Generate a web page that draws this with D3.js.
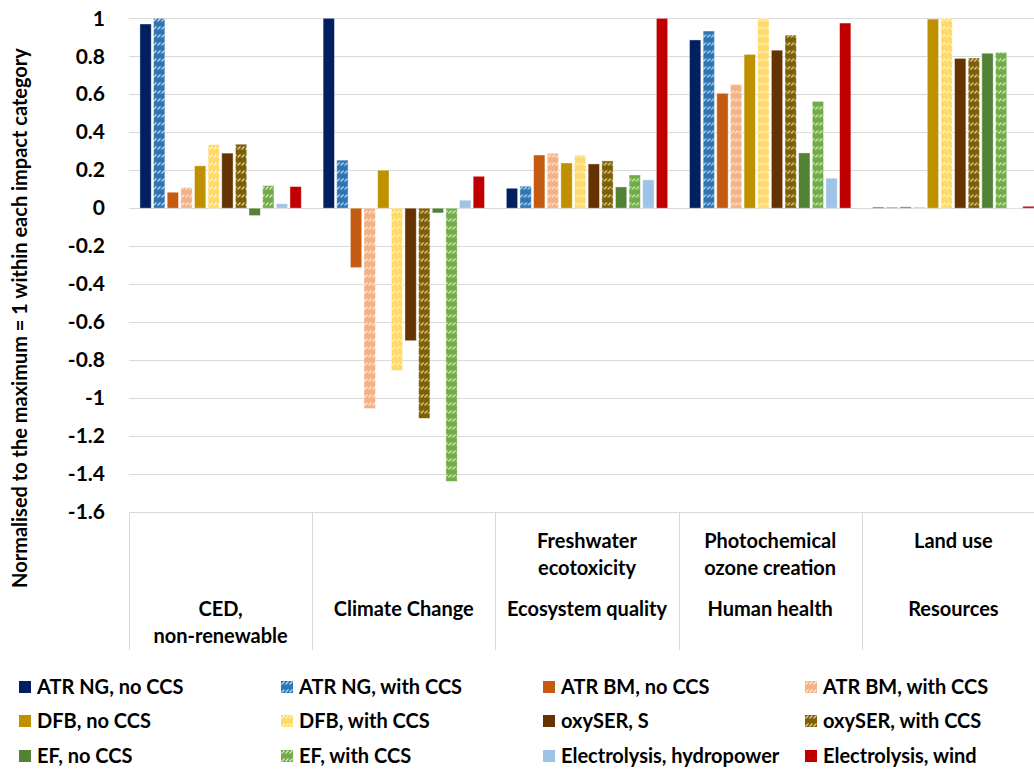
<!DOCTYPE html>
<html>
<head>
<meta charset="utf-8">
<script src="https://cdn.jsdelivr.net/npm/d3@7"></script>
<style>
  body { margin: 0; background: #fff; }
  svg text { font-family: Lato, "Noto Sans", sans-serif; font-weight: bold; fill: #000; }
</style>
</head>
<body>
<svg id="chart" width="1034" height="771"></svg>
<script>
// impact categories (inner label lines / outer label lines)
const categories = ['CED', 'Climate', 'Freshwater', 'Photochemical', 'Land'];
const innerLabels = [[], [], ['Freshwater', 'ecotoxicity'], ['Photochemical', 'ozone creation'], ['Land use']];
const outerLabels = [['CED,', 'non-renewable'], ['Climate Change'], ['Ecosystem quality'], ['Human health'], ['Resources']];

const seriesNames = [
  'ATR NG, no CCS', 'ATR NG, with CCS', 'ATR BM, no CCS', 'ATR BM, with CCS',
  'DFB, no CCS', 'DFB, with CCS', 'oxySER, S', 'oxySER, with CCS',
  'EF, no CCS', 'EF, with CCS', 'Electrolysis, hydropower', 'Electrolysis, wind'
];
const seriesColors = [
  '#002060', '#2E75B6', '#C55A11', '#F4B183',
  '#BF9000', '#FFD966', '#663300', '#7F6000',
  '#548235', '#70AD47', '#9DC3E6', '#C00000'
];
const seriesHatched = [false, true, false, true, false, true, false, true, false, true, false, false];

// values per series, one per category
const atrNgNo    = [0.97, 1.00, 0.105, 0.886, 0.005];
const atrNgWith  = [1.00, 0.253, 0.116, 0.933, 0.005];
const atrBmNo    = [0.084, -0.313, 0.28, 0.605, 0.007];
const atrBmWith  = [0.11, -1.055, 0.289, 0.653, 0.006];
const dfbNo      = [0.223, 0.20, 0.238, 0.81, 0.996];
const dfbWith    = [0.335, -0.855, 0.28, 1.00, 1.00];
const oxySerS    = [0.29, -0.698, 0.233, 0.832, 0.789];
const oxySerWith = [0.337, -1.107, 0.249, 0.912, 0.791];
const efNo       = [-0.039, -0.025, 0.112, 0.291, 0.816];
const efWith     = [0.119, -1.439, 0.175, 0.563, 0.821];
const elHydro    = [0.023, 0.042, 0.149, 0.158, 0.001];
const elWind     = [0.114, 0.168, 1.00, 0.975, 0.01];
const seriesValues = [atrNgNo, atrNgWith, atrBmNo, atrBmWith, dfbNo, dfbWith,
                      oxySerS, oxySerWith, efNo, efWith, elHydro, elWind];

const yTicks = [1, 0.8, 0.6, 0.4, 0.2, 0, -0.2, -0.4, -0.6, -0.8, -1, -1.2, -1.4, -1.6];

const svg = d3.select('#chart');
const plotLeft = 129, plotRight = 1045, plotTop = 18.3, plotBottom = 512;

const x0 = d3.scaleBand().domain(categories).range([plotLeft, plotRight]);
const x1 = d3.scaleBand().domain(d3.range(seriesNames.length))
  .range([0, x0.bandwidth()]).paddingInner(0.17).paddingOuter(0.8);
const y = d3.scaleLinear().domain([-1.6, 1]).range([plotBottom, plotTop]);

// hatch patterns
const defs = svg.append('defs');
seriesColors.forEach((c, i) => {
  if (!seriesHatched[i]) return;
  const p = defs.append('pattern').attr('id', 'hatch' + i)
    .attr('patternUnits', 'userSpaceOnUse').attr('width', 8).attr('height', 8);
  p.append('rect').attr('width', 8).attr('height', 8).attr('fill', c);
  [[0.5, 5.5, 3.5, 2.5], [4.5, 5.5, 7.5, 2.5]].forEach(l => {
    p.append('line').attr('x1', l[0]).attr('y1', l[1]).attr('x2', l[2]).attr('y2', l[3])
      .attr('stroke', '#fff').attr('stroke-opacity', 0.75).attr('stroke-width', 1.1);
  });
});
const fillOf = i => seriesHatched[i] ? 'url(#hatch' + i + ')' : seriesColors[i];

// grid
svg.append('g').selectAll('line').data(yTicks).join('line')
  .attr('x1', plotLeft).attr('x2', plotRight)
  .attr('y1', d => Math.round(y(d)) + 0.5).attr('y2', d => Math.round(y(d)) + 0.5)
  .attr('stroke', '#D9D9D9').attr('stroke-width', 1);

// y axis
const yAxis = svg.append('g').attr('transform', `translate(${plotLeft},0)`)
  .call(d3.axisLeft(y).tickValues(yTicks).tickSize(0).tickPadding(24)
    .tickFormat(d => String(+d.toFixed(1))));
yAxis.select('.domain').remove();
yAxis.selectAll('text').style('font-size', '21px').style('font-family', 'Lato, sans-serif');

svg.append('text')
  .attr('transform', 'translate(27,318) rotate(-90)')
  .attr('text-anchor', 'middle').style('font-size', '20px')
  .text('Normalised to the maximum = 1 within each impact category');

// bars
const groups = svg.append('g').selectAll('g').data(categories).join('g')
  .attr('transform', d => `translate(${x0(d)},0)`);
groups.selectAll('rect')
  .data((d, ci) => seriesValues.map((v, si) => ({ si, v: v[ci] })))
  .join('rect')
  .attr('x', d => x1(d.si))
  .attr('width', x1.bandwidth())
  .attr('y', d => y(Math.max(0, d.v)))
  .attr('height', d => Math.abs(y(d.v) - y(0)))
  .attr('fill', d => fillOf(d.si))
  .attr('stroke', '#fff').attr('stroke-opacity', 0.5).attr('stroke-width', 0.8);

// category axis separators
const sepX = categories.map(c => x0(c));
svg.append('g').selectAll('line').data(sepX).join('line')
  .attr('x1', d => Math.round(d) + 0.5).attr('x2', d => Math.round(d) + 0.5)
  .attr('y1', plotBottom).attr('y2', 650)
  .attr('stroke', '#D9D9D9');

// category labels
categories.forEach((c, i) => {
  const cx = x0(c) + x0.bandwidth() / 2;
  innerLabels[i].forEach((t, k) => {
    svg.append('text').attr('x', cx).attr('y', 548 + k * 27)
      .attr('text-anchor', 'middle').style('font-size', '20px').text(t);
  });
  outerLabels[i].forEach((t, k) => {
    svg.append('text').attr('x', cx).attr('y', 616 + k * 27)
      .attr('text-anchor', 'middle').style('font-size', '20px').text(t);
  });
});

// legend
const legX = [19, 281, 543, 805];
const legY = [687, 721, 756];
const leg = svg.append('g').selectAll('g').data(seriesNames).join('g')
  .attr('transform', (d, i) => `translate(${legX[i % 4]},${legY[Math.floor(i / 4)]})`);
leg.append('rect').attr('x', 0).attr('y', -6).attr('width', 12).attr('height', 12)
  .attr('fill', (d, i) => fillOf(i));
leg.append('text').attr('x', 18).attr('y', 7).style('font-size', '20px').text(d => d);
</script>
</body>
</html>
